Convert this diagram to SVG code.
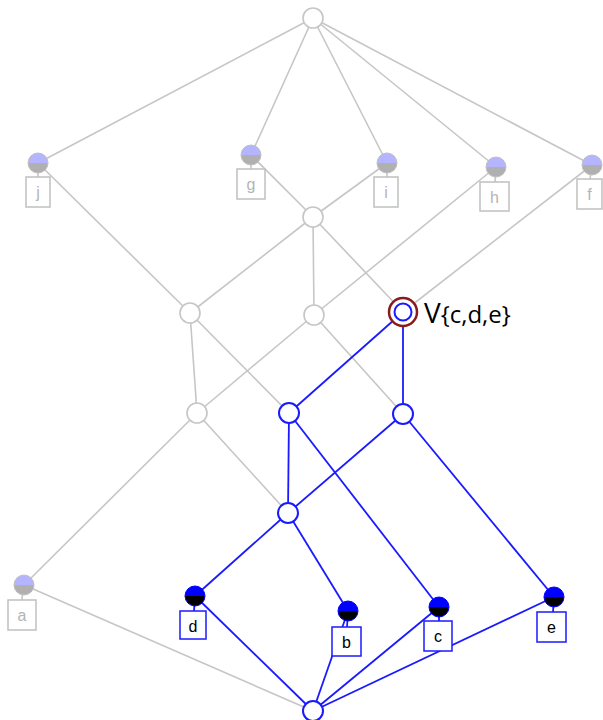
<svg xmlns="http://www.w3.org/2000/svg" width="603" height="720" viewBox="0 0 603 720">
  <style>
    .g { stroke: #c6c6c6; stroke-width: 1.6; fill: none; }
    .b { stroke: #1a1aff; stroke-width: 1.8; fill: none; }
    .ng { fill: #ffffff; stroke: #c6c6c6; stroke-width: 1.6; }
    .nb { fill: #ffffff; stroke: #1a1aff; stroke-width: 2; }
    .boxg { fill: #ffffff; stroke: #c0c0c0; stroke-width: 1.5; }
    .boxb { fill: #ffffff; stroke: #1a1aff; stroke-width: 1.5; }
    .tg { font-family: "Liberation Sans", Arial, sans-serif; font-size: 16px; fill: #b4b4b4; text-anchor: middle; }
    .tb { font-family: "Liberation Sans", Arial, sans-serif; font-size: 16px; fill: #000000; text-anchor: middle; }
    .lbl { font-family: "Open Sans", "Liberation Sans", sans-serif; fill: #000000; }
  </style>
  <defs>
    <!-- half-filled attribute markers -->
    <g id="attrGray">
      <path d="M-10,0 A10,10 0 0 1 10,0 Z" fill="#b4b4ff"/>
      <path d="M-10,0 A10,10 0 0 0 10,0 Z" fill="#b0b0b0"/>
      <circle r="10" fill="none" stroke="#c0c0c0" stroke-width="1"/>
    </g>
    <g id="attrBlue">
      <path d="M-10,0 A10,10 0 0 1 10,0 Z" fill="#0000ff"/>
      <path d="M-10,0 A10,10 0 0 0 10,0 Z" fill="#000000"/>
      <circle r="10" fill="none" stroke="#0000ff" stroke-width="1"/>
    </g>
  </defs>

  <g id="connectors">
    <!-- gray edges -->
    <line class="g" x1="313" y1="18" x2="38" y2="163"/>
    <line class="g" x1="313" y1="18" x2="251" y2="155"/>
    <line class="g" x1="313" y1="18" x2="387" y2="163"/>
    <line class="g" x1="313" y1="18" x2="496" y2="167"/>
    <line class="g" x1="313" y1="18" x2="592" y2="165"/>
    <line class="g" x1="38" y1="163" x2="190" y2="313"/>
    <line class="g" x1="251" y1="155" x2="313" y2="217"/>
    <line class="g" x1="387" y1="163" x2="313" y2="217"/>
    <line class="g" x1="496" y1="167" x2="314" y2="315"/>
    <line class="g" x1="592" y1="165" x2="403" y2="312"/>
    <line class="g" x1="313" y1="217" x2="190" y2="313"/>
    <line class="g" x1="313" y1="217" x2="314" y2="315"/>
    <line class="g" x1="313" y1="217" x2="403" y2="312"/>
    <line class="g" x1="190" y1="313" x2="197" y2="413"/>
    <line class="g" x1="190" y1="313" x2="289" y2="413"/>
    <line class="g" x1="314" y1="315" x2="197" y2="413"/>
    <line class="g" x1="314" y1="315" x2="403" y2="414"/>
    <line class="g" x1="197" y1="413" x2="288" y2="513"/>
    <line class="g" x1="197" y1="413" x2="24" y2="585"/>
    <line class="g" x1="313" y1="711" x2="24" y2="585"/>
    <!-- blue edges -->
    <line class="b" x1="403" y1="312" x2="289" y2="413"/>
    <line class="b" x1="403" y1="312" x2="403" y2="414"/>
    <line class="b" x1="289" y1="413" x2="288" y2="513"/>
    <line class="b" x1="289" y1="413" x2="439" y2="607"/>
    <line class="b" x1="403" y1="414" x2="288" y2="513"/>
    <line class="b" x1="403" y1="414" x2="554" y2="597"/>
    <line class="b" x1="288" y1="513" x2="195" y2="596"/>
    <line class="b" x1="288" y1="513" x2="348" y2="611"/>
    <line class="b" x1="313" y1="711" x2="195" y2="596"/>
    <line class="b" x1="313" y1="711" x2="348" y2="611"/>
    <line class="b" x1="313" y1="711" x2="439" y2="607"/>
    <line class="b" x1="313" y1="711" x2="554" y2="597"/>
  </g>

  <!-- concept nodes -->
  <g id="n-top"><circle class="ng" cx="313" cy="18" r="10"/></g>
  <g id="n-gi"><circle class="ng" cx="313" cy="217" r="10"/></g>
  <g id="n-m1"><circle class="ng" cx="190" cy="313" r="10"/></g>
  <g id="n-m2"><circle class="ng" cx="314" cy="315" r="10"/></g>
  <g id="n-v">
    <circle cx="403" cy="312" r="14" fill="#ffffff" stroke="#8b1a1a" stroke-width="2.5"/>
    <circle class="nb" cx="403" cy="312" r="8.5"/>
    <text class="lbl" x="424" y="323" font-size="28">V<tspan font-size="24">{c,d,e}</tspan></text>
  </g>
  <g id="n-r1"><circle class="ng" cx="197" cy="413" r="10"/></g>
  <g id="n-r2"><circle class="nb" cx="289" cy="413" r="10"/></g>
  <g id="n-r3"><circle class="nb" cx="403" cy="414" r="10"/></g>
  <g id="n-r4"><circle class="nb" cx="288" cy="513" r="10"/></g>
  <g id="n-bottom"><circle class="nb" cx="313" cy="711" r="10"/></g>

  <!-- attribute nodes (gray) -->
  <g id="n-j">
    <line class="g" x1="38" y1="163" x2="38" y2="177"/>
    <rect class="boxg" x="26" y="177" width="24" height="30"/>
    <text class="tg" x="38" y="198">j</text>
    <use href="#attrGray" x="38" y="163"/>
  </g>
  <g id="n-g">
    <line class="g" x1="251" y1="155" x2="251" y2="169"/>
    <rect class="boxg" x="237" y="169" width="28" height="30"/>
    <text class="tg" x="251" y="190">g</text>
    <use href="#attrGray" x="251" y="155"/>
  </g>
  <g id="n-i">
    <line class="g" x1="387" y1="163" x2="387" y2="177"/>
    <rect class="boxg" x="374" y="177" width="24" height="30"/>
    <text class="tg" x="386" y="198">i</text>
    <use href="#attrGray" x="387" y="163"/>
  </g>
  <g id="n-h">
    <line class="g" x1="496" y1="167" x2="495" y2="182"/>
    <rect class="boxg" x="480" y="182" width="29" height="29"/>
    <text class="tg" x="494.5" y="203">h</text>
    <use href="#attrGray" x="496" y="167"/>
  </g>
  <g id="n-f">
    <line class="g" x1="592" y1="165" x2="590" y2="179"/>
    <rect class="boxg" x="577" y="179" width="25" height="30"/>
    <text class="tg" x="589.5" y="200">f</text>
    <use href="#attrGray" x="592" y="165"/>
  </g>
  <g id="n-a">
    <line class="g" x1="23" y1="585" x2="22" y2="600"/>
    <rect class="boxg" x="8" y="600" width="28" height="30"/>
    <text class="tg" x="22" y="621">a</text>
    <use href="#attrGray" x="24" y="585"/>
  </g>

  <!-- attribute nodes (blue) -->
  <g id="n-d">
    <line class="b" x1="195" y1="596" x2="194" y2="611"/>
    <rect class="boxb" x="180" y="611" width="26" height="28"/>
    <text class="tb" x="193" y="632">d</text>
    <use href="#attrBlue" x="195" y="596"/>
  </g>
  <g id="n-b">
    <line class="b" x1="348" y1="611" x2="347" y2="627"/>
    <rect class="boxb" x="332" y="627" width="29" height="29"/>
    <text class="tb" x="346.5" y="648">b</text>
    <use href="#attrBlue" x="348" y="611"/>
  </g>
  <g id="n-c">
    <line class="b" x1="439" y1="607" x2="439" y2="621"/>
    <rect class="boxb" x="424" y="621" width="28" height="30"/>
    <text class="tb" x="438" y="642">c</text>
    <use href="#attrBlue" x="439" y="607"/>
  </g>
  <g id="n-e">
    <line class="b" x1="554" y1="597" x2="553" y2="612"/>
    <rect class="boxb" x="537" y="612" width="29" height="30"/>
    <text class="tb" x="551.5" y="633">e</text>
    <use href="#attrBlue" x="554" y="597"/>
  </g>
</svg>
